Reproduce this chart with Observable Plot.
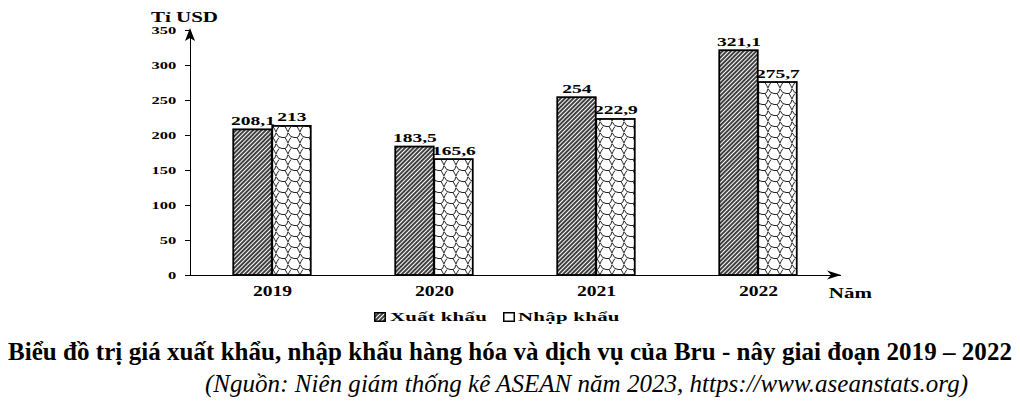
<!DOCTYPE html>
<html>
<head>
<meta charset="utf-8">
<script src="https://cdn.jsdelivr.net/npm/d3@7"></script>
<script src="https://cdn.jsdelivr.net/npm/@observablehq/plot@0.6"></script>
<style>
  html, body { margin: 0; padding: 0; background: #fff; }
  body { width: 1020px; height: 404px; position: relative; overflow: hidden; font-family: "Liberation Serif", "Times New Roman", serif; color: #000; }
  #chart { position: absolute; left: 0; top: 0; }
  .lg { position: absolute; top: 309px; height: 16px; line-height: 16px; font-weight: bold; font-size: 13px; white-space: nowrap; }
  .lgtext { transform: scaleX(1.6); transform-origin: 0 50%; display: inline-block; letter-spacing: 0.2px; }
  .title { position: absolute; left: 8px; top: 337px; line-height: 30px; font-weight: bold; font-size: 25px; white-space: nowrap; }
  .subtitle { position: absolute; left: 205px; top: 369px; line-height: 30px; font-style: italic; font-size: 25px; white-space: nowrap; }
</style>
</head>
<body>
<svg width="0" height="0" style="position:absolute">
  <defs>
    <pattern id="hatchExport" patternUnits="userSpaceOnUse" width="3" height="3" patternTransform="rotate(45)">
      <rect width="3" height="3" fill="#fff"></rect>
      <line x1="1" y1="0" x2="1" y2="3" stroke="#000" stroke-width="1.5"></line>
    </pattern>
    <pattern id="brickImport" patternUnits="userSpaceOnUse" width="12" height="11">
      <rect width="12" height="11" fill="#fff"></rect>
      <path d="M0,0.5 Q2,5.5 6,5.5 L9,5.5 Q11,5.5 12,0.5 M3,5.5 Q1,8 0,11 M9,5.5 Q10.5,8 12,11" fill="none" stroke="#222" stroke-width="1"></path>
    </pattern>
  </defs>
</svg>
<div id="chart"></div>
<div class="lg" style="left:374px"><svg width="12" height="10" style="vertical-align:-1px"><rect x="0.75" y="0.75" width="10.5" height="8.5" fill="url(#hatchExport)" stroke="#000" stroke-width="1.5"></rect></svg></div>
<div class="lg" style="left:390px"><span class="lgtext" id="lg0"></span></div>
<div class="lg" style="left:503px"><svg width="12" height="10" style="vertical-align:-1px"><rect x="0.75" y="0.75" width="10.5" height="8.5" fill="#fff" stroke="#000" stroke-width="1.5"></rect></svg></div>
<div class="lg" style="left:518px"><span class="lgtext" id="lg1"></span></div>
<div class="title" id="title"></div>
<div class="subtitle" id="subtitle"></div>
<script>
const years = ["2019", "2020", "2021", "2022"];
const seriesNames = ["Xuất khẩu", "Nhập khẩu"];
const exportValues = [208.1, 183.5, 254, 321.1];
const importValues = [213, 165.6, 222.9, 275.7];
const yTicks = [0, 50, 100, 150, 200, 250, 300, 350];
const yUnit = "Tỉ USD";
const xUnit = "Năm";
const titleText = "Biểu đồ trị giá xuất khẩu, nhập khẩu hàng hóa và dịch vụ của Bru - nây giai đoạn 2019 – 2022";
const sourceText = "(Nguồn: Niên giám thống kê ASEAN năm 2023, https://www.aseanstats.org)";

const fmt = v => String(v).replace(".", ",");
const exportData = years.map((year, i) => ({year, value: exportValues[i]}));
const importData = years.map((year, i) => ({year, value: importValues[i]}));

const W = 1020, H = 300, mL = 190, mR = 180, mT = 30, mB = 25;
const half = (W - mL - mR) / years.length / 2;
const barW = 39;
const gap = half - barW;

const plot = Plot.plot({
  width: W,
  height: H,
  marginLeft: mL,
  marginRight: mR,
  marginTop: mT,
  marginBottom: mB,
  style: {fontFamily: "'Liberation Serif', 'Times New Roman', serif", fontWeight: "bold", fontSize: "13px", color: "#000", background: "#fff", overflow: "visible"},
  x: {domain: years, padding: 0, label: null, tickSize: 0, tickPadding: 11, line: true},
  y: {domain: [0, 350], ticks: yTicks, label: null, tickSize: 5, tickPadding: 9, line: true},
  marks: [
    Plot.barY(exportData, {x: "year", y: "value", fill: "url(#hatchExport)", stroke: "#000", strokeWidth: 1.8, insetLeft: gap, insetRight: half}),
    Plot.barY(importData, {x: "year", y: "value", fill: "url(#brickImport)", stroke: "#000", strokeWidth: 1.8, insetLeft: half, insetRight: gap}),
    Plot.text(exportData, {x: "year", y: "value", text: d => fmt(d.value), dx: -barW / 2, dy: -5, lineAnchor: "bottom", textAnchor: "middle", fontWeight: "bold", fontSize: 13, ariaDescription: "value-label"}),
    Plot.text(importData, {x: "year", y: "value", text: d => fmt(d.value), dx: barW / 2, dy: -5, lineAnchor: "bottom", textAnchor: "middle", fontWeight: "bold", fontSize: 13, ariaDescription: "value-label"}),
    Plot.text([yUnit], {frameAnchor: "top-left", text: d => d, dx: -6, dy: -13, textAnchor: "middle", lineAnchor: "middle", fontWeight: "bold", fontSize: 14, ariaDescription: "unit-label"}),
    Plot.text([xUnit], {frameAnchor: "bottom-right", text: d => d, dx: 10, dy: 18, textAnchor: "middle", lineAnchor: "middle", fontWeight: "bold", fontSize: 14, ariaDescription: "unit-label"})
  ]
});

const svg = d3.select(plot);
svg.selectAll("[aria-label='y-axis line'], [aria-label='x-axis line']").attr("stroke-width", 1.5);
svg.selectAll("[aria-label='y-axis tick label']").attr("font-size", 11);
svg.selectAll("[aria-label='x-axis tick label']").attr("font-size", 14);

// arrowheads on the axes
svg.append("path")
  .attr("d", "M0,0 L-5,13 L0,10 L5,13 Z")
  .attr("transform", `translate(${mL},${mT - 2})`)
  .attr("fill", "#000");
svg.append("path")
  .attr("d", "M0,0 L-14,-4.5 L-10,0 L-14,4.5 Z")
  .attr("transform", `translate(${W - mR + 1},${H - mB})`)
  .attr("fill", "#000");

document.getElementById("chart").appendChild(plot);

// horizontally widened lettering, as in the reference: wrap each text in a group scaled about its anchor
const NS = "http://www.w3.org/2000/svg";
function widen(selector, s) {
  plot.querySelectorAll(`${selector} text, text${selector}`).forEach(t => {
    const g = document.createElementNS(NS, "g");
    t.parentNode.insertBefore(g, t);
    g.appendChild(t);
    const b = g.getBBox();
    const anchor = getComputedStyle(t).textAnchor;
    const ax = anchor === "end" ? b.x + b.width : anchor === "middle" ? b.x + b.width / 2 : b.x;
    g.setAttribute("transform", `translate(${ax},0) scale(${s},1) translate(${-ax},0)`);
  });
}
widen("[aria-label='y-axis tick label']", 1.5);
widen("[aria-label='x-axis tick label']", 1.4);
widen("[aria-description='value-label']", 1.5);
widen("[aria-description='unit-label']", 1.5);

document.getElementById("lg0").textContent = seriesNames[0];
document.getElementById("lg1").textContent = seriesNames[1];

function fitText(el, text, target) {
  el.textContent = text;
  const w = el.getBoundingClientRect().width;
  const n = Array.from(text).length;
  el.style.letterSpacing = ((target - w) / n) + "px";
}
fitText(document.getElementById("title"), titleText, 1004);
fitText(document.getElementById("subtitle"), sourceText, 763);
</script>
</body>
</html>
